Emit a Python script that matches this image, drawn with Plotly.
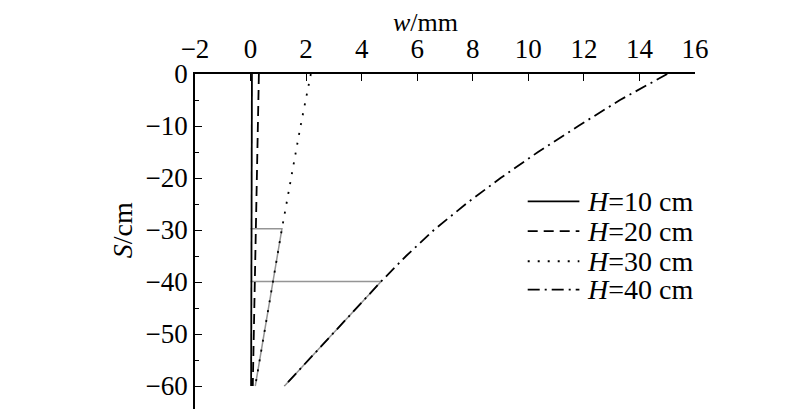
import plotly.graph_objects as go

# ---- data ----
S_h10 = [0, -60]
w_h10 = [0.05, 0.02]

S_h20 = [0, -60]
w_h20 = [0.30, 0.08]

S_h30 = [0, -5, -10, -15, -20, -25, -29.75, -60]
w_h30 = [2.17, 1.98, 1.80, 1.63, 1.46, 1.29, 1.13, 0.17]

S_h40 = [0, -5, -10, -15, -20, -25, -30, -35, -39.9, -60]
w_h40 = [15.0, 13.3, 11.8, 10.35, 9.0, 7.75, 6.6, 5.6, 4.7, 1.22]

# grey construction lines
S_ref1 = [-29.75, -29.75, -60]
w_ref1 = [0.0, 1.13, 0.17]
S_ref2 = [-39.9, -39.9, -60]
w_ref2 = [0.0, 4.7, 1.22]

legend_labels = ["<i>H</i>=10 cm", "<i>H</i>=20 cm", "<i>H</i>=30 cm", "<i>H</i>=40 cm"]
x_ticks = list(range(-2, 17, 2))
y_ticks = list(range(0, -61, -10))

FONT = "Liberation Serif, Times New Roman, serif"
GREY = "#959595"
dashes = ["solid", "10px,6px", "2px,8px", "12px,5px,2px,5px"]

fig = go.Figure()
fig.add_trace(go.Scatter(x=w_ref1, y=S_ref1, mode="lines", line=dict(color=GREY, width=1.5), showlegend=False))
fig.add_trace(go.Scatter(x=w_ref2, y=S_ref2, mode="lines", line=dict(color=GREY, width=1.5), showlegend=False))

series = [(w_h10, S_h10), (w_h20, S_h20), (w_h30, S_h30), (w_h40, S_h40)]
for (w, s), name, d in zip(series, legend_labels, dashes):
    fig.add_trace(go.Scatter(x=w, y=s, mode="lines", name=name,
                             line=dict(color="black", width=1.8, dash=d), showlegend=False))

# manual legend
row_y = [0.623, 0.535, 0.446, 0.362]
for name, d, yy in zip(legend_labels, dashes, row_y):
    fig.add_shape(type="line", xref="paper", yref="paper", x0=0.6654, x1=0.7688, y0=yy, y1=yy,
                  line=dict(color="black", width=1.8, dash=d))
    fig.add_annotation(xref="paper", yref="paper", x=0.779, y=yy, text=name, showarrow=False,
                       xanchor="left", yanchor="middle", font=dict(family=FONT, size=28, color="black"))

# axis titles
fig.add_annotation(xref="paper", yref="paper", x=0.46, y=1.0, yshift=52, text="<i>w</i>/mm",
                   showarrow=False, xanchor="center", yanchor="middle",
                   font=dict(family=FONT, size=26, color="black"))
fig.add_annotation(xref="paper", yref="paper", x=0, xshift=-73, y=0.538, text="<i>S</i>/cm",
                   showarrow=False, textangle=-90, xanchor="center", yanchor="middle",
                   font=dict(family=FONT, size=28, color="black"))

fig.update_layout(
    width=800, height=409,
    margin=dict(l=187, r=113, t=66, b=5),
    paper_bgcolor="white", plot_bgcolor="white",
    font=dict(family=FONT, size=27, color="black"),
    xaxis=dict(side="top", range=[-2, 16], tickvals=x_ticks, showgrid=False, zeroline=False,
               automargin=False, ticklabelstandoff=3,
               showline=True, linecolor="black", linewidth=1.5, ticks="inside", ticklen=7,
               tickwidth=1.3, tickcolor="black", mirror=False),
    yaxis=dict(range=[-65, 0], tickvals=y_ticks, showgrid=False, zeroline=False,
               automargin=False,
               showline=True, linecolor="black", linewidth=1.5, ticks="inside", ticklen=7,
               tickwidth=1.3, tickcolor="black",
               minor=dict(tickvals=[-5, -15, -25, -35, -45, -55], ticks="inside", ticklen=4,
                          tickcolor="black", tickwidth=1.2)),
)

fig.write_html("out.html")
